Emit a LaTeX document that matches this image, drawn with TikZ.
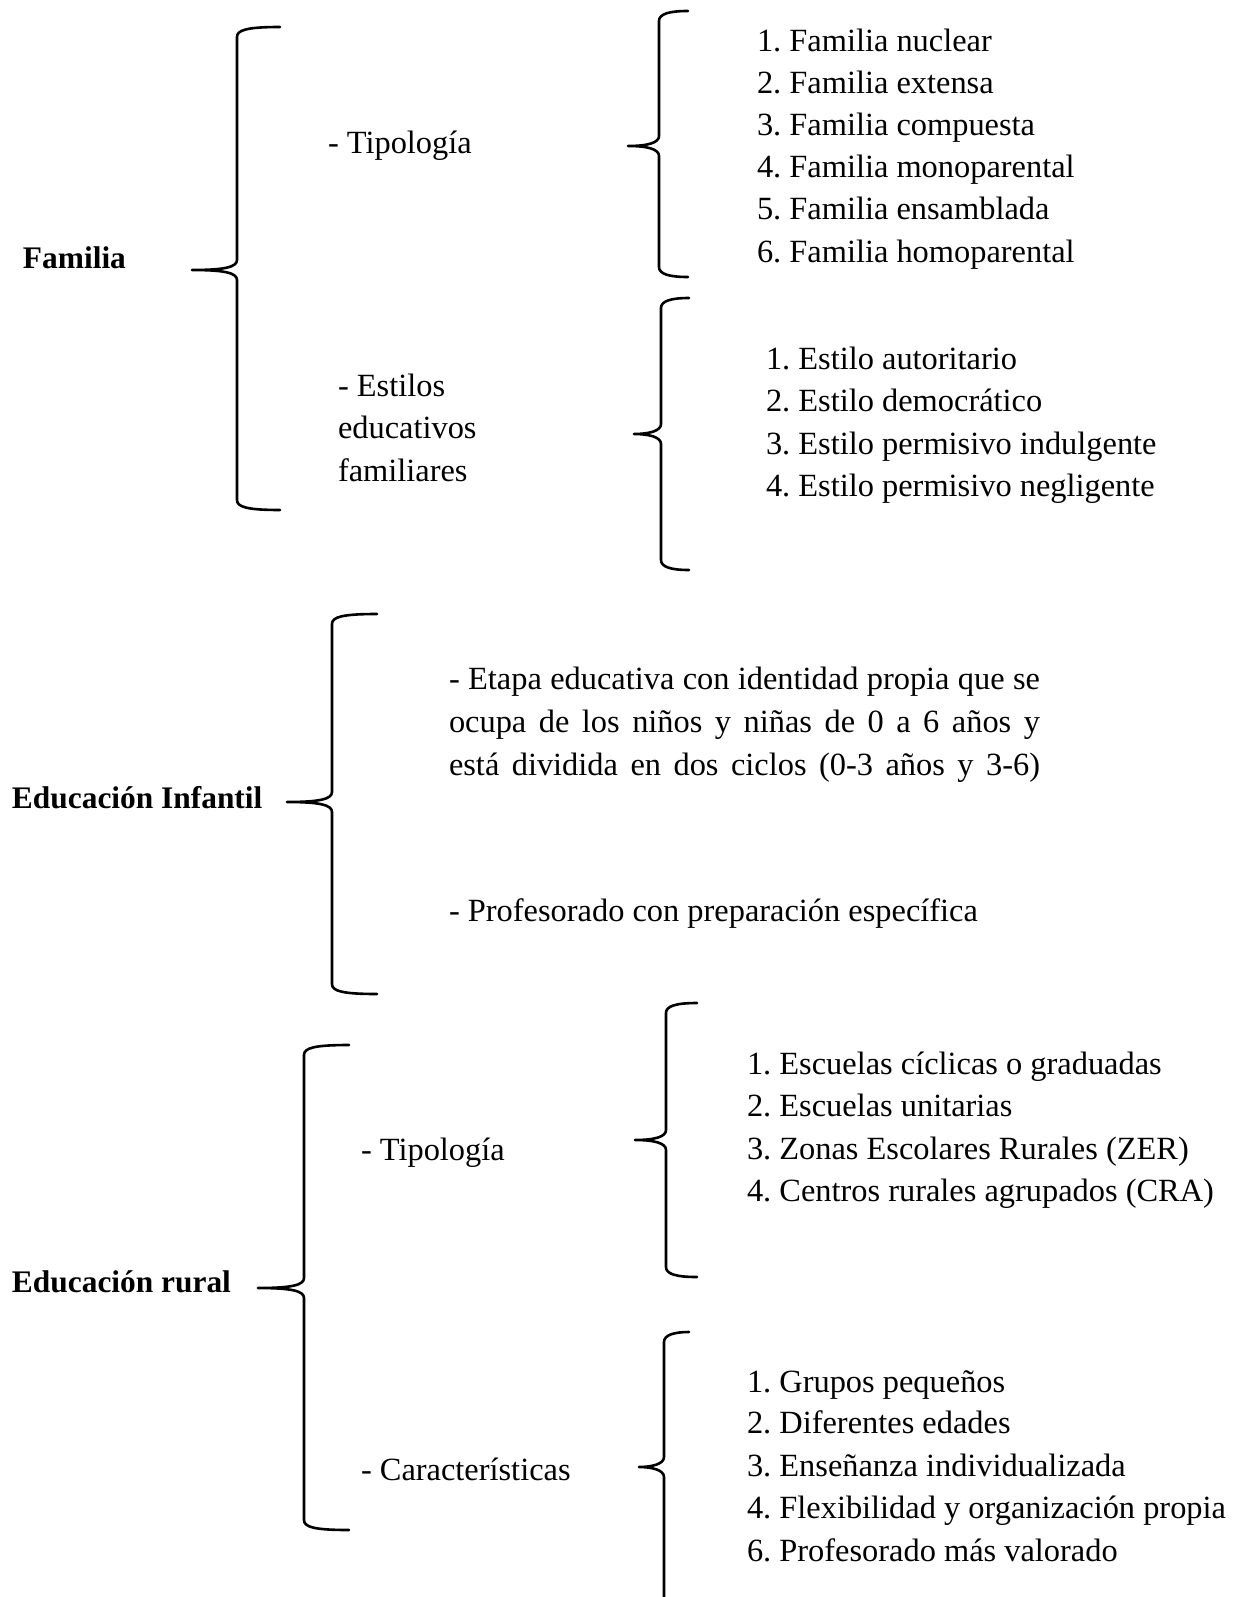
\documentclass[tikz,border=0pt]{standalone}
\usepackage{fontspec}
\setmainfont{Liberation Serif}
\frenchspacing
\begin{document}
\begin{tikzpicture}[x=1pt,y=-1pt,
  txt/.style={anchor=base west,inner sep=0pt,outer sep=0pt,font=\fontsize{32.4}{42}\selectfont\frenchspacing},
  head/.style={txt,font=\fontsize{31.4}{42}\selectfont\bfseries},
  br/.style={line width=2.6pt,line join=round,line cap=round}]
\useasboundingbox[fill=white] (0,0) rectangle (1248,1597);
% brace: #1 xv, #2 ytop, #3 ybot, #4 ymid, #5 xtip, #6 xend
\newcommand\mybrace[6]{%
  \draw[br] ({#6},{#2}) .. controls ({#1+10},{#2}) and ({#1},{#2+3}) .. ({#1},{#2+10})
    -- ({#1},{#4-10}) .. controls ({#1},{#4-3}) and ({#1-12},{#4}) .. ({#5},{#4})
    .. controls ({#1-12},{#4}) and ({#1},{#4+3}) .. ({#1},{#4+10})
    -- ({#1},{#3-10}) .. controls ({#1},{#3-3}) and ({#1+10},{#3}) .. ({#6},{#3});}
\newcommand\mybraceopen[5]{%
  \draw[br] ({#5},{#2}) .. controls ({#1+10},{#2}) and ({#1},{#2+3}) .. ({#1},{#2+10})
    -- ({#1},{#3-10}) .. controls ({#1},{#3-3}) and ({#1-12},{#3}) .. ({#4},{#3})
    .. controls ({#1-12},{#3}) and ({#1},{#3+3}) .. ({#1},{#3+10})
    -- ({#1},1610);}

% ---------- Familia ----------
\node[head] (fam) at (23,269) {Familia};
\mybrace{237}{27}{510}{270}{192}{280}
\node[txt] (famtip) at (328,154) {- Tipología};
\mybrace{659}{11}{277}{146}{628}{688}
\node[txt] (f1) at (757,52) {1. Familia nuclear};
\node[txt] (f2) at (757,94) {2. Familia extensa};
\node[txt] (f3) at (757,136) {3. Familia compuesta};
\node[txt] (f4) at (757,178) {4. Familia monoparental};
\node[txt] (f5) at (757,220) {5. Familia ensamblada};
\node[txt] (f6) at (757,262) {6. Familia homoparental};
\node[txt] (est1) at (338,396) {- Estilos};
\node[txt] (est2) at (338,438) {educativos};
\node[txt] (est3) at (338,481) {familiares};
\mybrace{661}{298}{570}{434}{634}{689}
\node[txt] (e1) at (766,369) {1. Estilo autoritario};
\node[txt] (e2) at (766,411) {2. Estilo democrático};
\node[txt] (e3) at (766,454) {3. Estilo permisivo indulgente};
\node[txt] (e4) at (766,496) {4. Estilo permisivo negligente};

% ---------- Educacion Infantil ----------
\node[head] (inf) at (12,808) {Educación Infantil};
\mybrace{332}{614}{994}{802}{287}{377}
\node[txt] (p1) at (449,689) {\makebox[591pt][s]{- Etapa educativa con identidad propia que se}};
\node[txt] (p2) at (449,732) {\makebox[591pt][s]{ocupa de los niños y niñas de 0 a 6 años y}};
\node[txt] (p3) at (449,775) {\makebox[591pt][s]{está dividida en dos ciclos (0-3 años y 3-6)}};
\node[txt] (p4) at (449,921) {- Profesorado con preparación específica};

% ---------- Educacion rural ----------
\node[head] (rur) at (12,1292) {Educación rural};
\mybrace{304}{1045}{1530}{1288}{258}{349}
\node[txt] (rtip) at (361,1160) {- Tipología};
\mybrace{666}{1003}{1277}{1140}{635}{697}
\node[txt] (r1) at (747,1074) {1. Escuelas cíclicas o graduadas};
\node[txt] (r2) at (747,1116) {2. Escuelas unitarias};
\node[txt] (r3) at (747,1159) {3. Zonas Escolares Rurales (ZER)};
\node[txt] (r4) at (747,1201) {4. Centros rurales agrupados (CRA)};
\node[txt] (rcar) at (361,1480) {- Características};
\mybraceopen{664}{1332}{1467}{639}{689}
\node[txt] (c1) at (747,1392) {1. Grupos pequeños};
\node[txt] (c2) at (747,1433) {2. Diferentes edades};
\node[txt] (c3) at (747,1476) {3. Enseñanza individualizada};
\node[txt] (c4) at (747,1518) {4. Flexibilidad y organización propia};
\node[txt] (c5) at (747,1561) {6. Profesorado más valorado};
\end{tikzpicture}
\end{document}
